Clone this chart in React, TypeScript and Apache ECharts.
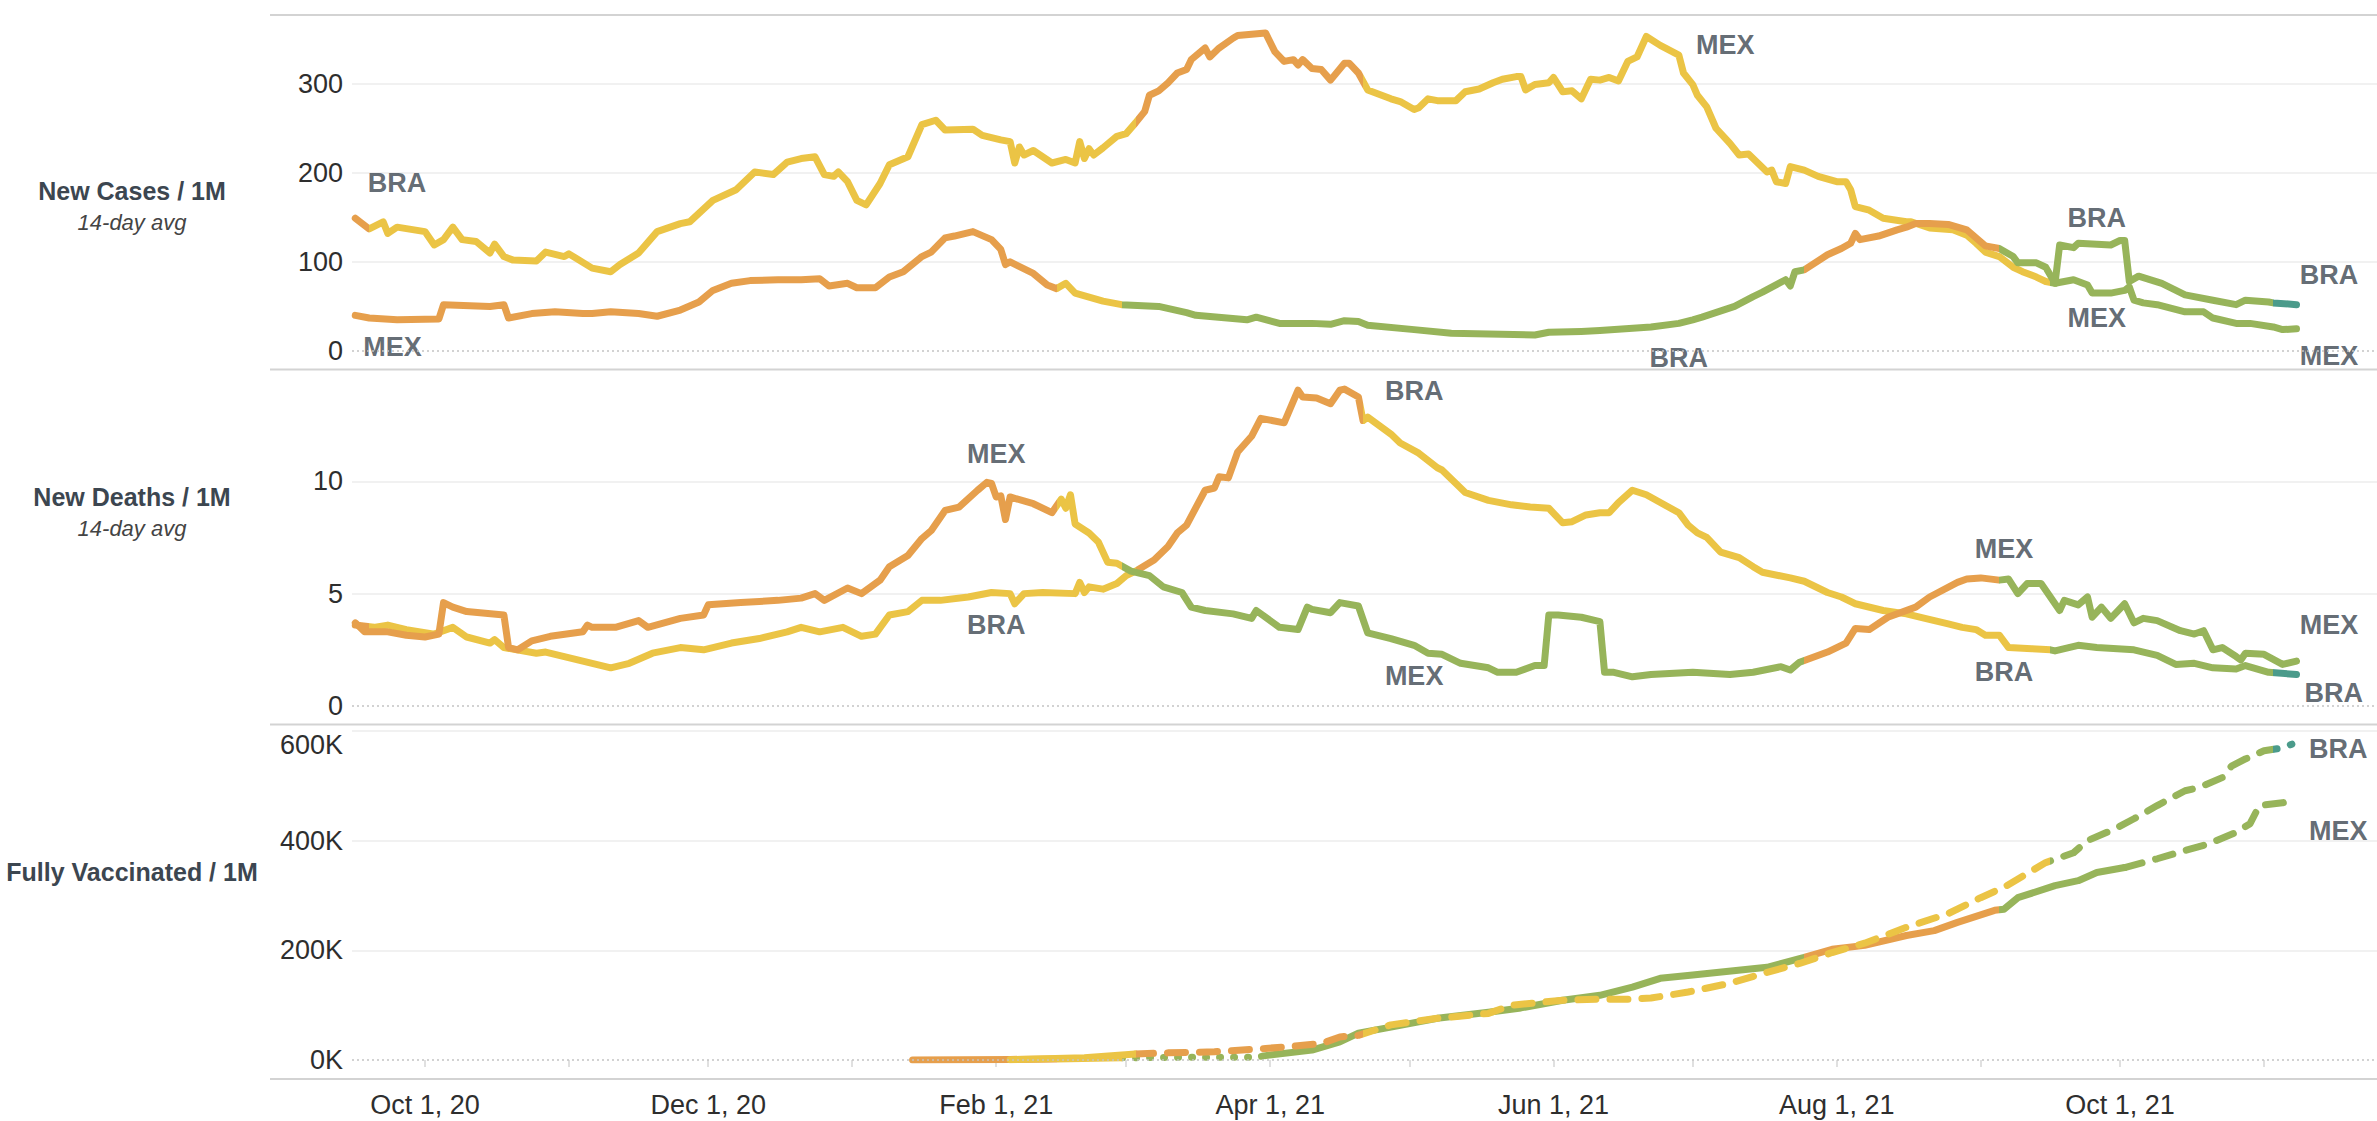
import React, { useEffect, useRef } from "react";
import * as echarts from "echarts";

type Pt = [string, number];

const COLOR: Record<string, string> = {
  yellow: "#EBC445",
  orange: "#E69F4C",
  green: "#97B45A",
  teal: "#4B9B8B",
};

// status colour periods (start date, status) per country
const braStatus: [string, string][] = [
  ["2020-09-01", "orange"],
  ["2020-09-19", "yellow"],
  ["2021-03-03", "orange"],
  ["2021-04-21", "yellow"],
  ["2021-09-16", "green"],
  ["2021-11-03", "teal"],
];
const mexStatus: [string, string][] = [
  ["2020-09-01", "orange"],
  ["2021-02-14", "yellow"],
  ["2021-02-28", "green"],
  ["2021-07-25", "orange"],
  ["2021-09-05", "green"],
];

const braCases: Pt[] = [
  ["2020-09-16", 149], ["2020-09-19", 137], ["2020-09-22", 145], ["2020-09-23", 132], ["2020-09-25", 139],
  ["2020-10-01", 134], ["2020-10-03", 119], ["2020-10-05", 125], ["2020-10-07", 139], ["2020-10-09", 125],
  ["2020-10-12", 123], ["2020-10-15", 110], ["2020-10-16", 120], ["2020-10-18", 106], ["2020-10-20", 102],
  ["2020-10-25", 101], ["2020-10-27", 111], ["2020-10-31", 106], ["2020-11-01", 109], ["2020-11-06", 93],
  ["2020-11-10", 89], ["2020-11-12", 97], ["2020-11-16", 110], ["2020-11-20", 134], ["2020-11-25", 143],
  ["2020-11-27", 145], ["2020-12-02", 169], ["2020-12-07", 181], ["2020-12-11", 201], ["2020-12-15", 198],
  ["2020-12-18", 212], ["2020-12-21", 216], ["2020-12-24", 218], ["2020-12-26", 198], ["2020-12-28", 196],
  ["2020-12-29", 201], ["2020-12-31", 190], ["2021-01-02", 169], ["2021-01-04", 164], ["2021-01-07", 188],
  ["2021-01-09", 209], ["2021-01-13", 218], ["2021-01-16", 254], ["2021-01-19", 259], ["2021-01-21", 248],
  ["2021-01-27", 249], ["2021-01-29", 242], ["2021-02-02", 237], ["2021-02-04", 235], ["2021-02-05", 211],
  ["2021-02-06", 229], ["2021-02-07", 220], ["2021-02-09", 225], ["2021-02-13", 211], ["2021-02-16", 215],
  ["2021-02-18", 211], ["2021-02-19", 235], ["2021-02-20", 216], ["2021-02-21", 227], ["2021-02-22", 220],
  ["2021-02-24", 228], ["2021-02-27", 241], ["2021-03-01", 244], ["2021-03-03", 256], ["2021-03-05", 269],
  ["2021-03-06", 287], ["2021-03-08", 292], ["2021-03-10", 301], ["2021-03-12", 312], ["2021-03-14", 316],
  ["2021-03-15", 327], ["2021-03-18", 340], ["2021-03-19", 330], ["2021-03-21", 340], ["2021-03-24", 351],
  ["2021-03-25", 354], ["2021-03-31", 357], ["2021-04-02", 336], ["2021-04-04", 325], ["2021-04-06", 327],
  ["2021-04-07", 321], ["2021-04-08", 327], ["2021-04-10", 317], ["2021-04-12", 316], ["2021-04-14", 304],
  ["2021-04-17", 323], ["2021-04-18", 323], ["2021-04-20", 312], ["2021-04-22", 293], ["2021-04-25", 287],
  ["2021-04-27", 283], ["2021-04-29", 280], ["2021-05-02", 271], ["2021-05-03", 273], ["2021-05-05", 283],
  ["2021-05-07", 281], ["2021-05-11", 281], ["2021-05-13", 291], ["2021-05-16", 294], ["2021-05-19", 301],
  ["2021-05-21", 305], ["2021-05-24", 308], ["2021-05-25", 308], ["2021-05-26", 293], ["2021-05-28", 299],
  ["2021-05-31", 301], ["2021-06-01", 307], ["2021-06-03", 291], ["2021-06-05", 292], ["2021-06-07", 283],
  ["2021-06-09", 305], ["2021-06-11", 304], ["2021-06-13", 307], ["2021-06-15", 303], ["2021-06-17", 325],
  ["2021-06-19", 330], ["2021-06-21", 353], ["2021-06-24", 343], ["2021-06-28", 332], ["2021-06-29", 312],
  ["2021-07-01", 299], ["2021-07-02", 287], ["2021-07-04", 274], ["2021-07-06", 250], ["2021-07-09", 233],
  ["2021-07-11", 220], ["2021-07-13", 221], ["2021-07-15", 211], ["2021-07-17", 201], ["2021-07-18", 203],
  ["2021-07-19", 190], ["2021-07-21", 188], ["2021-07-22", 207], ["2021-07-25", 203], ["2021-07-28", 196],
  ["2021-08-01", 190], ["2021-08-03", 190], ["2021-08-04", 181], ["2021-08-05", 162], ["2021-08-08", 158],
  ["2021-08-11", 149], ["2021-08-16", 145], ["2021-08-17", 145], ["2021-08-21", 138], ["2021-08-26", 136],
  ["2021-08-29", 130], ["2021-08-31", 121], ["2021-09-02", 111], ["2021-09-05", 106], ["2021-09-08", 94],
  ["2021-09-10", 89], ["2021-09-13", 83], ["2021-09-15", 78], ["2021-09-17", 76], ["2021-09-18", 119],
  ["2021-09-21", 116], ["2021-09-22", 121], ["2021-09-29", 119], ["2021-10-01", 124], ["2021-10-02", 124],
  ["2021-10-03", 78], ["2021-10-05", 84], ["2021-10-10", 76], ["2021-10-15", 63], ["2021-10-21", 57],
  ["2021-10-26", 52], ["2021-10-28", 57], ["2021-11-02", 55], ["2021-11-03", 54], ["2021-11-08", 52],
];

const mexCases: Pt[] = [
  ["2020-09-16", 40], ["2020-09-19", 37], ["2020-09-25", 35], ["2020-10-04", 36], ["2020-10-05", 52],
  ["2020-10-15", 50], ["2020-10-18", 52], ["2020-10-19", 37], ["2020-10-24", 42], ["2020-10-29", 44],
  ["2020-11-04", 42], ["2020-11-06", 42], ["2020-11-10", 44], ["2020-11-16", 42], ["2020-11-20", 39],
  ["2020-11-25", 46], ["2020-11-29", 55], ["2020-12-02", 68], ["2020-12-06", 76], ["2020-12-10", 79],
  ["2020-12-16", 80], ["2020-12-21", 80], ["2020-12-25", 81], ["2020-12-27", 73], ["2020-12-31", 76],
  ["2021-01-02", 71], ["2021-01-06", 71], ["2021-01-09", 83], ["2021-01-12", 89], ["2021-01-16", 106],
  ["2021-01-18", 111], ["2021-01-21", 127], ["2021-01-23", 129], ["2021-01-27", 134], ["2021-01-31", 125],
  ["2021-02-02", 114], ["2021-02-03", 97], ["2021-02-04", 100], ["2021-02-09", 87], ["2021-02-12", 74],
  ["2021-02-14", 70], ["2021-02-16", 76], ["2021-02-18", 65], ["2021-02-24", 56], ["2021-02-28", 52],
  ["2021-03-08", 50], ["2021-03-14", 43], ["2021-03-16", 40], ["2021-03-27", 35], ["2021-03-29", 38],
  ["2021-04-03", 31], ["2021-04-10", 31], ["2021-04-14", 30], ["2021-04-17", 34], ["2021-04-20", 33],
  ["2021-04-22", 29], ["2021-05-02", 24], ["2021-05-10", 20], ["2021-05-28", 18], ["2021-05-31", 21],
  ["2021-06-07", 22], ["2021-06-11", 23], ["2021-06-22", 27], ["2021-06-28", 31], ["2021-07-01", 35],
  ["2021-07-03", 38], ["2021-07-10", 50], ["2021-07-14", 61], ["2021-07-16", 66], ["2021-07-21", 80],
  ["2021-07-22", 73], ["2021-07-23", 89], ["2021-07-25", 91], ["2021-07-30", 108], ["2021-08-02", 115],
  ["2021-08-04", 121], ["2021-08-05", 132], ["2021-08-06", 125], ["2021-08-10", 129], ["2021-08-14", 136],
  ["2021-08-16", 139], ["2021-08-18", 143], ["2021-08-21", 143], ["2021-08-25", 142], ["2021-08-27", 139],
  ["2021-08-29", 136], ["2021-08-31", 127], ["2021-09-02", 118], ["2021-09-05", 115], ["2021-09-08", 106],
  ["2021-09-09", 99], ["2021-09-13", 99], ["2021-09-15", 94], ["2021-09-17", 76], ["2021-09-21", 80],
  ["2021-09-24", 74], ["2021-09-25", 65], ["2021-09-29", 65], ["2021-10-02", 68], ["2021-10-03", 72],
  ["2021-10-04", 57], ["2021-10-06", 54], ["2021-10-09", 52], ["2021-10-15", 44], ["2021-10-19", 44],
  ["2021-10-21", 37], ["2021-10-26", 31], ["2021-10-29", 31], ["2021-11-03", 27], ["2021-11-05", 24],
  ["2021-11-08", 25],
];

const braDeaths: Pt[] = [
  ["2020-09-16", 3.6], ["2020-09-20", 3.5], ["2020-09-23", 3.6], ["2020-09-27", 3.4], ["2020-10-03", 3.2],
  ["2020-10-07", 3.5], ["2020-10-10", 3.07], ["2020-10-15", 2.8], ["2020-10-16", 2.95], ["2020-10-18", 2.6],
  ["2020-10-25", 2.35], ["2020-10-27", 2.4], ["2020-10-31", 2.2], ["2020-11-06", 1.9], ["2020-11-10", 1.7],
  ["2020-11-14", 1.9], ["2020-11-19", 2.35], ["2020-11-25", 2.6], ["2020-11-30", 2.5], ["2020-12-06", 2.8],
  ["2020-12-12", 3.0], ["2020-12-18", 3.3], ["2020-12-21", 3.5], ["2020-12-25", 3.3], ["2020-12-30", 3.5],
  ["2021-01-03", 3.1], ["2021-01-06", 3.2], ["2021-01-09", 4.05], ["2021-01-13", 4.2], ["2021-01-16", 4.7],
  ["2021-01-20", 4.7], ["2021-01-26", 4.85], ["2021-01-31", 5.05], ["2021-02-04", 5.0], ["2021-02-05", 4.55],
  ["2021-02-07", 5.0], ["2021-02-11", 5.05], ["2021-02-18", 5.0], ["2021-02-19", 5.5], ["2021-02-20", 5.05],
  ["2021-02-21", 5.3], ["2021-02-24", 5.2], ["2021-02-27", 5.45], ["2021-03-01", 5.8], ["2021-03-03", 6.0],
  ["2021-03-07", 6.5], ["2021-03-10", 7.1], ["2021-03-12", 7.7], ["2021-03-14", 8.05], ["2021-03-18", 9.6],
  ["2021-03-20", 9.7], ["2021-03-21", 10.2], ["2021-03-23", 10.15], ["2021-03-25", 11.3], ["2021-03-28", 12.0],
  ["2021-03-30", 12.8], ["2021-04-04", 12.6], ["2021-04-07", 14.05], ["2021-04-08", 13.75], ["2021-04-11", 13.7],
  ["2021-04-14", 13.45], ["2021-04-16", 14.05], ["2021-04-17", 14.1], ["2021-04-20", 13.75], ["2021-04-21", 12.7],
  ["2021-04-22", 12.85], ["2021-04-27", 12.1], ["2021-04-29", 11.7], ["2021-05-03", 11.25], ["2021-05-07", 10.6],
  ["2021-05-08", 10.5], ["2021-05-13", 9.5], ["2021-05-18", 9.15], ["2021-05-23", 8.95], ["2021-05-27", 8.85],
  ["2021-05-31", 8.8], ["2021-06-03", 8.15], ["2021-06-05", 8.2], ["2021-06-08", 8.5], ["2021-06-11", 8.6],
  ["2021-06-13", 8.6], ["2021-06-15", 9.05], ["2021-06-18", 9.6], ["2021-06-21", 9.4], ["2021-06-28", 8.6],
  ["2021-06-30", 8.05], ["2021-07-02", 7.7], ["2021-07-04", 7.5], ["2021-07-07", 6.85], ["2021-07-11", 6.6],
  ["2021-07-14", 6.2], ["2021-07-16", 5.95], ["2021-07-22", 5.7], ["2021-07-25", 5.55], ["2021-07-30", 5.05],
  ["2021-08-02", 4.85], ["2021-08-05", 4.55], ["2021-08-09", 4.35], ["2021-08-11", 4.25], ["2021-08-16", 4.1],
  ["2021-08-20", 3.9], ["2021-08-25", 3.65], ["2021-08-28", 3.5], ["2021-08-31", 3.4], ["2021-09-02", 3.15],
  ["2021-09-05", 3.15], ["2021-09-07", 2.6], ["2021-09-12", 2.55], ["2021-09-16", 2.5], ["2021-09-17", 2.45],
  ["2021-09-22", 2.7], ["2021-09-26", 2.6], ["2021-10-04", 2.5], ["2021-10-09", 2.25], ["2021-10-13", 1.85],
  ["2021-10-17", 1.9], ["2021-10-21", 1.7], ["2021-10-26", 1.65], ["2021-10-28", 1.8], ["2021-11-02", 1.5],
  ["2021-11-08", 1.4],
];

const mexDeaths: Pt[] = [
  ["2020-09-16", 3.7], ["2020-09-18", 3.3], ["2020-09-23", 3.3], ["2020-09-27", 3.15], ["2020-10-01", 3.07],
  ["2020-10-04", 3.2], ["2020-10-05", 4.6], ["2020-10-07", 4.4], ["2020-10-10", 4.2], ["2020-10-18", 4.05],
  ["2020-10-19", 2.6], ["2020-10-21", 2.5], ["2020-10-24", 2.9], ["2020-10-28", 3.1], ["2020-11-04", 3.3],
  ["2020-11-05", 3.6], ["2020-11-06", 3.5], ["2020-11-11", 3.5], ["2020-11-16", 3.8], ["2020-11-18", 3.5],
  ["2020-11-25", 3.9], ["2020-11-30", 4.05], ["2020-12-01", 4.5], ["2020-12-08", 4.6], ["2020-12-16", 4.7],
  ["2020-12-21", 4.8], ["2020-12-24", 5.0], ["2020-12-26", 4.7], ["2020-12-31", 5.25], ["2021-01-03", 5.0],
  ["2021-01-07", 5.6], ["2021-01-09", 6.2], ["2021-01-13", 6.7], ["2021-01-16", 7.45], ["2021-01-18", 7.8],
  ["2021-01-21", 8.7], ["2021-01-24", 8.85], ["2021-01-28", 9.6], ["2021-01-30", 9.95], ["2021-01-31", 9.9],
  ["2021-02-01", 9.3], ["2021-02-02", 9.35], ["2021-02-03", 8.3], ["2021-02-04", 9.3], ["2021-02-09", 9.0],
  ["2021-02-13", 8.6], ["2021-02-15", 9.2], ["2021-02-16", 8.8], ["2021-02-17", 9.4], ["2021-02-18", 8.1],
  ["2021-02-21", 7.7], ["2021-02-23", 7.3], ["2021-02-25", 6.4], ["2021-02-27", 6.35], ["2021-03-02", 6.0],
  ["2021-03-06", 5.8], ["2021-03-09", 5.3], ["2021-03-13", 5.05], ["2021-03-15", 4.4], ["2021-03-18", 4.25],
  ["2021-03-24", 4.1], ["2021-03-28", 3.9], ["2021-03-29", 4.25], ["2021-04-03", 3.5], ["2021-04-07", 3.4],
  ["2021-04-09", 4.4], ["2021-04-10", 4.3], ["2021-04-14", 4.15], ["2021-04-16", 4.6], ["2021-04-20", 4.45],
  ["2021-04-22", 3.25], ["2021-04-27", 3.0], ["2021-05-02", 2.7], ["2021-05-05", 2.35], ["2021-05-08", 2.3],
  ["2021-05-12", 1.9], ["2021-05-18", 1.7], ["2021-05-20", 1.5], ["2021-05-24", 1.5], ["2021-05-28", 1.8],
  ["2021-05-30", 1.8], ["2021-05-31", 4.05], ["2021-06-02", 4.05], ["2021-06-07", 3.95], ["2021-06-11", 3.75],
  ["2021-06-12", 1.5], ["2021-06-14", 1.5], ["2021-06-18", 1.3], ["2021-06-22", 1.4], ["2021-07-01", 1.5],
  ["2021-07-09", 1.4], ["2021-07-14", 1.5], ["2021-07-20", 1.75], ["2021-07-22", 1.6], ["2021-07-24", 1.95],
  ["2021-07-30", 2.4], ["2021-08-03", 2.8], ["2021-08-05", 3.45], ["2021-08-08", 3.4], ["2021-08-12", 3.95],
  ["2021-08-18", 4.4], ["2021-08-21", 4.85], ["2021-08-27", 5.5], ["2021-08-29", 5.65], ["2021-09-01", 5.7],
  ["2021-09-05", 5.6], ["2021-09-07", 5.65], ["2021-09-09", 5.0], ["2021-09-11", 5.45], ["2021-09-14", 5.45],
  ["2021-09-18", 4.25], ["2021-09-19", 4.7], ["2021-09-22", 4.5], ["2021-09-24", 4.85], ["2021-09-25", 3.95],
  ["2021-09-27", 4.4], ["2021-09-29", 3.9], ["2021-10-02", 4.55], ["2021-10-04", 3.7], ["2021-10-06", 3.9],
  ["2021-10-09", 3.8], ["2021-10-14", 3.35], ["2021-10-17", 3.2], ["2021-10-19", 3.35], ["2021-10-21", 2.5],
  ["2021-10-23", 2.6], ["2021-10-26", 2.2], ["2021-10-27", 2.05], ["2021-10-28", 2.35], ["2021-11-01", 2.3],
  ["2021-11-05", 1.85], ["2021-11-08", 2.0],
];

const braVacc: Pt[] = [
  ["2021-02-04", 500], ["2021-02-20", 4000], ["2021-03-03", 11000], ["2021-03-10", 13000], ["2021-03-20", 15000],
  ["2021-03-31", 21000], ["2021-04-06", 25000], ["2021-04-12", 30000], ["2021-04-16", 42000], ["2021-04-20", 45000],
  ["2021-04-27", 64000], ["2021-05-07", 76000], ["2021-05-18", 85000], ["2021-05-23", 100000], ["2021-06-03", 109000],
  ["2021-06-11", 111000], ["2021-06-18", 111000], ["2021-06-22", 113000], ["2021-06-30", 124000], ["2021-07-09", 140000],
  ["2021-07-17", 160000], ["2021-07-24", 176000], ["2021-07-31", 196000], ["2021-08-07", 213000], ["2021-08-16", 242000],
  ["2021-08-25", 267000], ["2021-09-01", 296000], ["2021-09-06", 315000], ["2021-09-12", 345000], ["2021-09-15", 360000],
  ["2021-09-21", 378000], ["2021-09-24", 400000], ["2021-09-30", 422000], ["2021-10-04", 440000], ["2021-10-09", 464000],
  ["2021-10-15", 491000], ["2021-10-18", 497000], ["2021-10-23", 515000], ["2021-10-25", 536000], ["2021-10-28", 549000],
  ["2021-11-01", 564000], ["2021-11-05", 569000], ["2021-11-07", 576000],
];

const mexVacc: Pt[] = [
  ["2021-01-14", 0], ["2021-02-04", 1000], ["2021-02-14", 2000], ["2021-02-28", 4000], ["2021-03-15", 5000],
  ["2021-03-29", 5000], ["2021-03-31", 8000], ["2021-04-10", 18000], ["2021-04-16", 33000], ["2021-04-20", 49000],
  ["2021-04-27", 60000], ["2021-05-07", 76000], ["2021-05-18", 87000], ["2021-05-25", 95000], ["2021-06-03", 109000],
  ["2021-06-11", 118000], ["2021-06-18", 133000], ["2021-06-24", 149000], ["2021-07-01", 155000], ["2021-07-17", 169000],
  ["2021-07-25", 187000], ["2021-07-31", 202000], ["2021-08-07", 209000], ["2021-08-16", 227000], ["2021-08-22", 236000],
  ["2021-08-27", 251000], ["2021-09-04", 273000], ["2021-09-06", 275000], ["2021-09-09", 296000], ["2021-09-17", 318000],
  ["2021-09-22", 327000], ["2021-09-26", 342000], ["2021-10-02", 351000], ["2021-10-09", 367000], ["2021-10-15", 382000],
  ["2021-10-20", 394000], ["2021-10-26", 415000], ["2021-10-29", 431000], ["2021-10-31", 464000], ["2021-11-05", 469000],
  ["2021-11-08", 476000],
];

// line-pattern periods of the vaccination series
const braVaccPattern: [string, string, string][] = [
  ["2021-01-01", "2021-03-03", "solid"],
  ["2021-03-03", "2021-12-31", "dashed"],
];
const mexVaccPattern: [string, string, string][] = [
  ["2021-01-01", "2021-02-28", "solid"],
  ["2021-02-28", "2021-03-31", "dotted"],
  ["2021-03-31", "2021-10-02", "solid"],
  ["2021-10-02", "2021-12-31", "dashed"],
];

// country labels: [name, date, value]
const casesLabels: [string, string, number][] = [
  ["BRA", "2020-09-25", 189], ["MEX", "2020-09-24", 4.5], ["MEX", "2021-07-08", 343], ["BRA", "2021-06-28", -8],
  ["BRA", "2021-09-26", 149], ["MEX", "2021-09-26", 37], ["BRA", "2021-11-15", 85], ["MEX", "2021-11-15", -5.6],
];
const deathsLabels: [string, string, number][] = [
  ["MEX", "2021-02-01", 11.2], ["BRA", "2021-02-01", 3.6], ["BRA", "2021-05-02", 14.0], ["MEX", "2021-05-02", 1.34],
  ["MEX", "2021-09-06", 7.0], ["BRA", "2021-09-06", 1.5], ["MEX", "2021-11-15", 3.6], ["BRA", "2021-11-16", 0.58],
];
const vaccLabels: [string, string, number][] = [
  ["BRA", "2021-11-17", 567000], ["MEX", "2021-11-17", 418000],
];

const panelTitles = [
  { title: "New Cases / 1M", sub: "14-day avg" },
  { title: "New Deaths / 1M", sub: "14-day avg" },
  { title: "Fully Vaccinated / 1M", sub: "" },
];

const MONTHS = ["Jan", "Feb", "Mar", "Apr", "May", "Jun", "Jul", "Aug", "Sep", "Oct", "Nov", "Dec"];
const FONT = '"Liberation Sans", Arial, sans-serif';

function ts(s: string): number {
  const [y, m, d] = s.split("-").map(Number);
  return Date.UTC(y, m - 1, d);
}
const conv = (arr: Pt[]) => arr.map(([d, v]) => [ts(d), v]);

function pieces(status: [string, string][]) {
  return status.map(([d, c], i) => {
    const p: any = { color: COLOR[c] };
    if (i > 0) p.gte = ts(d);
    if (i < status.length - 1) p.lt = ts(status[i + 1][0]);
    return p;
  });
}

const DASH: Record<string, any> = { solid: "solid", dashed: [18, 14], dotted: [1, 13] };

function buildOption() {
  const xMin = Date.UTC(2020, 8, 15, 7);
  const xMax = Date.UTC(2021, 10, 25, 8);

  const grids = [
    { left: 352, right: 0, top: 15, height: 336 },
    { left: 352, right: 0, top: 370, height: 336 },
    { left: 352, right: 0, top: 731, height: 329 },
  ];

  const xAxes = grids.map((_, i) => ({
    type: "time",
    gridIndex: i,
    min: xMin,
    max: xMax,
    show: i === 2,
    offset: 19,
    minInterval: 30 * 86400000,
    maxInterval: 30 * 86400000,
    axisLine: { show: false },
    axisTick: { show: true, length: 7, lineStyle: { color: "#d6d6d6", width: 1.5 } },
    splitLine: { show: false },
    axisLabel: {
      margin: 12,
      fontSize: 27,
      color: "#2e2e2e",
      fontFamily: FONT,
      formatter: (val: number) => {
        const d = new Date(val);
        if (d.getUTCDate() !== 1) return "";
        const m = d.getUTCMonth();
        if (m % 2 !== 1) return "";
        return `${MONTHS[m]} 1, ${String(d.getUTCFullYear()).slice(2)}`;
      },
    },
  }));

  const yBase = (i: number, max: number, interval: number, fmt?: (v: number) => string, showMax = false) => ({
    type: "value",
    gridIndex: i,
    min: 0,
    max,
    interval,
    axisLine: { show: false },
    axisTick: { show: false },
    axisLabel: {
      fontSize: 27,
      color: "#2e2e2e",
      margin: 9,
      fontFamily: FONT,
      showMaxLabel: showMax,
      verticalAlignMaxLabel: "top",
      formatter: fmt,
    },
    splitLine: {
      show: true,
      showMinLine: false,
      showMaxLine: showMax,
      lineStyle: { color: "#ececec", width: 1.5 },
    },
  });

  const yAxes = [
    yBase(0, 377.1, 100),
    yBase(1, 14.95, 5),
    yBase(2, 600000, 200000, (v: number) => `${Math.round(v / 1000)}K`, true),
  ];

  const series: any[] = [];
  const braIdx: number[] = [];
  const mexIdx: number[] = [];

  const lineSeries = (name: string, data: any[], grid: number, dash: any = "solid") => ({
    type: "line",
    name,
    xAxisIndex: grid,
    yAxisIndex: grid,
    data,
    showSymbol: false,
    symbol: "none",
    connectNulls: false,
    z: 3,
    lineStyle: { width: 7, cap: "round", join: "round", type: dash },
    emphasis: { disabled: true },
  });

  const addSeries = (s: any, country: "BRA" | "MEX") => {
    (country === "BRA" ? braIdx : mexIdx).push(series.length);
    series.push(s);
  };

  addSeries(lineSeries("BRA", conv(braCases), 0), "BRA");
  addSeries(lineSeries("MEX", conv(mexCases), 0), "MEX");
  addSeries(lineSeries("BRA", conv(braDeaths), 1), "BRA");
  addSeries(lineSeries("MEX", conv(mexDeaths), 1), "MEX");

  const segs = (arr: Pt[], pattern: [string, string, string][], country: "BRA" | "MEX") => {
    pattern.forEach(([from, to, kind]) => {
      const a = ts(from);
      const b = ts(to);
      const pts = conv(arr).filter((p) => p[0] >= a && p[0] <= b);
      if (pts.length > 1) addSeries(lineSeries(country, pts, 2, DASH[kind]), country);
    });
  };
  segs(mexVacc, mexVaccPattern, "MEX");
  segs(braVacc, braVaccPattern, "BRA");

  const labelSeries = (grid: number, labels: [string, string, number][]) => ({
    type: "scatter",
    xAxisIndex: grid,
    yAxisIndex: grid,
    symbol: "circle",
    symbolSize: 1,
    clip: false,
    silent: true,
    z: 1,
    itemStyle: { color: "transparent" },
    data: labels.map(([n, d, v]) => ({ name: n, value: [ts(d), v] })),
    label: {
      show: true,
      position: "inside",
      formatter: "{b}",
      fontSize: 27,
      fontWeight: "bold",
      color: "#3c4650",
      fontFamily: FONT,
    },
    markLine: {
      silent: true,
      symbol: ["none", "none"],
      label: { show: false },
      lineStyle: { color: "#c4c4c4", type: [2, 3], width: 1.5 },
      data: [{ yAxis: 0 }],
    },
  });
  series.push(labelSeries(0, casesLabels));
  series.push(labelSeries(1, deathsLabels));
  series.push(labelSeries(2, vaccLabels));

  const borderYs = [15, 369.5, 724.5, 1079];
  const graphic: any[] = borderYs.map((y) => ({
    type: "line",
    shape: { x1: 270, y1: y, x2: 2377, y2: y },
    style: { stroke: "#d3d3d3", lineWidth: 2 },
    silent: true,
  }));
  const titleYs = [191, 497, 872];
  panelTitles.forEach((p, i) => {
    graphic.push({
      type: "text",
      x: 132,
      y: titleYs[i],
      silent: true,
      style: {
        text: p.title,
        font: `bold 25px ${FONT}`,
        fill: "#3c4650",
        textAlign: "center",
        textVerticalAlign: "middle",
        align: "center",
        verticalAlign: "middle",
      },
    });
    if (p.sub) {
      graphic.push({
        type: "text",
        x: 132,
        y: titleYs[i] + 31,
        silent: true,
        style: {
          text: p.sub,
          font: `italic 22px ${FONT}`,
          fill: "#444",
          textAlign: "center",
          textVerticalAlign: "middle",
          align: "center",
          verticalAlign: "middle",
        },
      });
    }
  });

  return {
    animation: false,
    useUTC: true,
    backgroundColor: "#ffffff",
    textStyle: { fontFamily: FONT },
    grid: grids,
    xAxis: xAxes,
    yAxis: yAxes,
    visualMap: [
      { type: "piecewise", show: false, dimension: 0, seriesIndex: braIdx, pieces: pieces(braStatus) },
      { type: "piecewise", show: false, dimension: 0, seriesIndex: mexIdx, pieces: pieces(mexStatus) },
    ],
    graphic: { elements: graphic },
    series,
  };
}

export default function App() {
  const ref = useRef<HTMLDivElement>(null);
  useEffect(() => {
    document.body.style.margin = "0";
    document.body.style.overflow = "hidden";
    const chart = echarts.init(ref.current!, null, { renderer: "svg", width: 2377, height: 1121 });
    chart.setOption(buildOption() as any);
    return () => chart.dispose();
  }, []);
  return (
    <div
      ref={ref}
      style={{ position: "absolute", left: 0, top: 0, width: "2377px", height: "1121px", background: "#fff" }}
    />
  );
}
